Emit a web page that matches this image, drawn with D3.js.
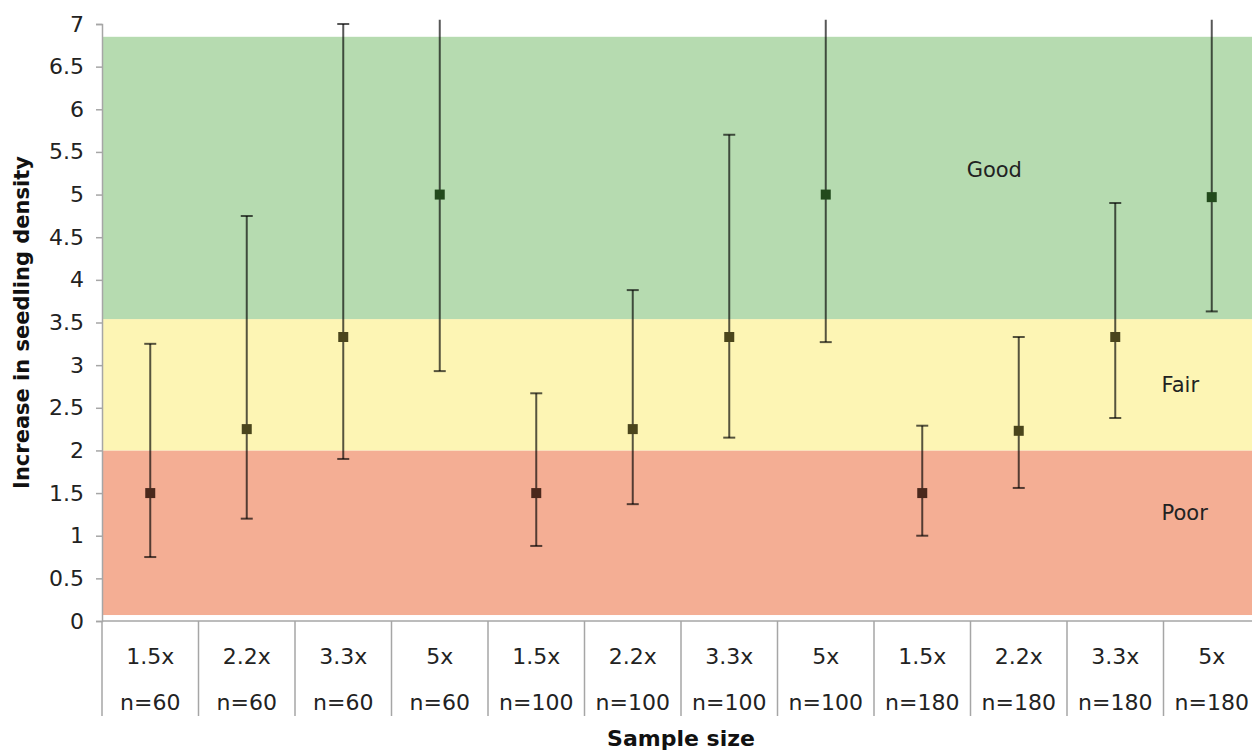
<!DOCTYPE html>
<html>
<head>
<meta charset="utf-8">
<script src="https://cdn.jsdelivr.net/npm/d3@7"></script>
<style>
  html, body { margin: 0; padding: 0; background: #fff; }
  svg { display: block; font-family: "DejaVu Sans", Verdana, sans-serif; }
</style>
</head>
<body>
<svg id="chart" width="1252" height="751"></svg>
<script>
// Seedling density increase by multiplier and sample size
const multipliers = ["1.5x", "2.2x", "3.3x", "5x", "1.5x", "2.2x", "3.3x", "5x", "1.5x", "2.2x", "3.3x", "5x"];
const sampleSizes = ["n=60", "n=60", "n=60", "n=60", "n=100", "n=100", "n=100", "n=100", "n=180", "n=180", "n=180", "n=180"];
const means = [1.5, 2.25, 3.33, 5.0, 1.5, 2.25, 3.33, 5.0, 1.5, 2.23, 3.33, 4.97];
const lows  = [0.75, 1.2, 1.9, 2.93, 0.88, 1.37, 2.15, 3.27, 1.0, 1.56, 2.38, 3.63];
const highs = [3.25, 4.75, 7.0, 10.3, 2.67, 3.88, 5.7, 8.5, 2.29, 3.33, 4.9, 7.2];

// Rating bands
const bandNames = ["Poor", "Fair", "Good"];
const bandFrom  = [0.07, 2.0, 3.54];
const bandTo    = [2.0, 3.54, 6.85];
const bandColors = ["#f4ae94", "#fdf5b4", "#b6dbb0"];
// label anchor: position on category axis (index units) and value
const bandLabelPos = [10.98, 10.98, 8.96];
const bandLabelVal = [1.27, 2.77, 5.29];

const yTicks = [0, 0.5, 1, 1.5, 2, 2.5, 3, 3.5, 4, 4.5, 5, 5.5, 6, 6.5, 7];

const svg = d3.select("#chart");
const margin = { left: 102, top: 24, bottom: 130 };
const plotW = 1158;
const plotH = 751 - margin.top - margin.bottom;

const idx = d3.range(multipliers.length);
const x = d3.scaleBand().domain(idx).range([margin.left, margin.left + plotW]);
const xi = d3.scaleLinear().domain([0, multipliers.length]).range([margin.left, margin.left + plotW]);
const y = d3.scaleLinear().domain([0, 7]).range([margin.top + plotH, margin.top]);

const textColor = "#222";
const axisColor = "#a6a6a6";

// bands
svg.append("g").selectAll("rect").data(bandNames).join("rect")
  .attr("x", margin.left + 1)
  .attr("width", plotW)
  .attr("y", (d, i) => y(bandTo[i]))
  .attr("height", (d, i) => y(bandFrom[i]) - y(bandTo[i]))
  .attr("fill", (d, i) => bandColors[i]);

svg.append("g").selectAll("text").data(bandNames).join("text")
  .attr("x", (d, i) => xi(bandLabelPos[i]))
  .attr("y", (d, i) => y(bandLabelVal[i]))
  .attr("dy", "0.35em")
  .attr("font-size", 21)
  .attr("fill", textColor)
  .text(d => d);

// y axis
const yAxis = svg.append("g")
  .attr("transform", `translate(${margin.left},0)`)
  .call(d3.axisLeft(y).tickValues(yTicks).tickFormat(d3.format("")).tickSize(6).tickPadding(12));
yAxis.select(".domain").attr("stroke", axisColor).attr("stroke-width", 1.5);
yAxis.selectAll(".tick line").attr("stroke", axisColor).attr("stroke-width", 1.5);
yAxis.selectAll(".tick text").attr("font-size", 22).attr("fill", textColor)
  .attr("font-family", "DejaVu Sans, Verdana, sans-serif");

// x axis: category table with dividers
const baseY = y(0);
svg.append("line")
  .attr("x1", margin.left).attr("x2", margin.left + plotW)
  .attr("y1", baseY).attr("y2", baseY)
  .attr("stroke", axisColor).attr("stroke-width", 1.5);

const dividers = d3.range(multipliers.length + 1);
svg.append("g").selectAll("line").data(dividers).join("line")
  .attr("x1", d => xi(d)).attr("x2", d => xi(d))
  .attr("y1", baseY).attr("y2", baseY + 95)
  .attr("stroke", axisColor).attr("stroke-width", 1.5);

const cats = svg.append("g");
cats.selectAll("text.mult").data(idx).join("text")
  .attr("class", "mult")
  .attr("x", d => x(d) + x.bandwidth() / 2)
  .attr("y", baseY + 35)
  .attr("dy", "0.35em")
  .attr("text-anchor", "middle")
  .attr("font-size", 22)
  .attr("fill", textColor)
  .text(d => multipliers[d]);
cats.selectAll("text.n").data(idx).join("text")
  .attr("class", "n")
  .attr("x", d => x(d) + x.bandwidth() / 2)
  .attr("y", baseY + 81)
  .attr("dy", "0.35em")
  .attr("text-anchor", "middle")
  .attr("font-size", 22)
  .attr("fill", textColor)
  .text(d => sampleSizes[d]);

// axis titles
svg.append("text")
  .attr("transform", `translate(22,${(y(0) + y(7)) / 2}) rotate(-90)`)
  .attr("text-anchor", "middle")
  .attr("dy", "0.35em")
  .attr("font-size", 21)
  .attr("font-weight", "bold")
  .attr("fill", "#111")
  .text("Increase in seedling density");

svg.append("text")
  .attr("x", xi(multipliers.length / 2))
  .attr("y", 746)
  .attr("text-anchor", "middle")
  .attr("font-size", 22)
  .attr("font-weight", "bold")
  .attr("fill", "#111")
  .text("Sample size");

// error bars, clipped just above the top of the value axis
svg.append("clipPath").attr("id", "plotClip")
  .append("rect")
  .attr("x", 0).attr("width", 1252)
  .attr("y", y(7.05)).attr("height", y(0) - y(7.05));

const bars = svg.append("g").attr("clip-path", "url(#plotClip)");
const ink = "rgba(0,0,0,0.66)";
const capW = 12;
const cx = d => x(d) + x.bandwidth() / 2;
bars.selectAll("line.stem").data(idx).join("line")
  .attr("class", "stem")
  .attr("x1", cx).attr("x2", cx)
  .attr("y1", d => y(lows[d])).attr("y2", d => y(highs[d]))
  .attr("stroke", ink).attr("stroke-width", 2);
bars.selectAll("line.capLo").data(idx).join("line")
  .attr("class", "capLo")
  .attr("x1", d => cx(d) - capW / 2).attr("x2", d => cx(d) + capW / 2)
  .attr("y1", d => y(lows[d])).attr("y2", d => y(lows[d]))
  .attr("stroke", ink).attr("stroke-width", 2);
bars.selectAll("line.capHi").data(idx).join("line")
  .attr("class", "capHi")
  .attr("x1", d => cx(d) - capW / 2).attr("x2", d => cx(d) + capW / 2)
  .attr("y1", d => y(highs[d])).attr("y2", d => y(highs[d]))
  .attr("stroke", ink).attr("stroke-width", 2);

// mean markers, tinted by the band they sit in
function markerColor(v) {
  const b = bandNames.findIndex((n, i) => v >= bandFrom[i] && v < bandTo[i]);
  const h = d3.hsl(bandColors[b < 0 ? 0 : b]);
  return d3.hsl(h.h, 0.45, 0.2).formatHex();
}
const ms = 10;
svg.append("g").selectAll("rect").data(idx).join("rect")
  .attr("x", d => cx(d) - ms / 2)
  .attr("y", d => y(means[d]) - ms / 2)
  .attr("width", ms).attr("height", ms)
  .attr("fill", d => markerColor(means[d]));
</script>
</body>
</html>
